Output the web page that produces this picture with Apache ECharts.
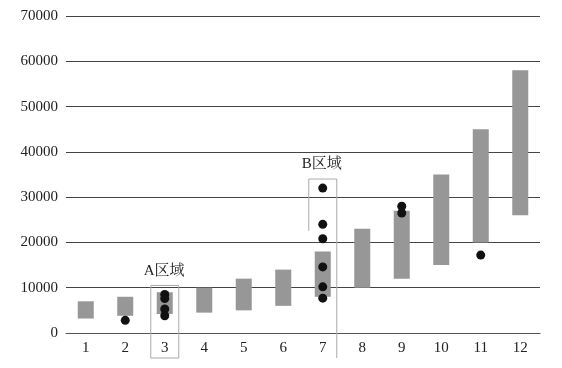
<!DOCTYPE html>
<html><head><meta charset="utf-8">
<script src="https://cdn.jsdelivr.net/npm/echarts@6/dist/echarts.min.js"></script>
<style>html,body{margin:0;padding:0;background:#fff}#c{width:562px;height:368px}</style>
</head><body><div id="c"></div>
<script>
const categories = ['1','2','3','4','5','6','7','8','9','10','11','12'];
const rangeLow  = [3200, 3800, 4200, 4500, 5000, 6000, 8000, 10000, 12000, 15000, 20000, 26000];
const rangeHigh = [7000, 8000, 9000, 10000, 12000, 14000, 18000, 23000, 27000, 35000, 45000, 58000];
const dotCats   = [1, 2, 2, 2, 2, 6, 6, 6, 6, 6, 6, 8, 8, 10];
const dotValues = [2800, 8500, 7600, 5300, 3800, 32000, 24000, 20800, 14600, 10200, 7700, 28000, 26500, 17200];
const yTicks = {min: 0, max: 70000, interval: 10000};
const regionLabels = ['A区域', 'B区域'];

const font = '"Liberation Serif", "Noto Serif CJK SC", "Noto Sans CJK SC", serif';
const chart = echarts.init(document.getElementById('c'), null, {renderer: 'canvas'});
chart.setOption({
  animation: false,
  grid: {left: 66, right: 22, top: 16, bottom: 35},
  xAxis: {
    type: 'category', data: categories, boundaryGap: true,
    axisLine: {show: true, lineStyle: {color: '#555', width: 1}},
    axisTick: {show: false},
    axisLabel: {color: '#222', fontFamily: font, fontSize: 15, margin: 8}
  },
  yAxis: {
    type: 'value', min: yTicks.min, max: yTicks.max, interval: yTicks.interval,
    axisLine: {show: false}, axisTick: {show: false},
    splitLine: {lineStyle: {color: '#444', width: 1}},
    axisLabel: {color: '#222', fontFamily: font, fontSize: 15, margin: 8, formatter: v => String(v)}
  },
  series: [
    {type: 'bar', stack: 'r', data: rangeLow, itemStyle: {color: 'transparent'}, barWidth: 16, silent: true},
    {type: 'bar', stack: 'r', data: rangeHigh.map((h, i) => h - rangeLow[i]), itemStyle: {color: '#979797'}, barWidth: 16},
    {type: 'scatter', data: dotCats.map((c, i) => [c, dotValues[i]]), symbolSize: 9, itemStyle: {color: '#111', opacity: 1}, z: 5}
  ]
});

function px(cat, val) { return chart.convertToPixel({gridIndex: 0}, [cat, val]); }
const a0 = px(2, 10500), aBase = px(2, 0);
const b0 = px(6, 34000), bMid = px(6, 23000), bBase = px(6, 0);
const half = 14;
chart.setOption({
  graphic: [
    {type: 'rect', shape: {x: a0[0] - half, y: a0[1], width: half * 2, height: aBase[1] + 25 - a0[1]},
     style: {fill: null, stroke: '#aaa', lineWidth: 1}, z: 10},
    {type: 'text', x: a0[0] - 21, y: a0[1] - 22,
     style: {text: regionLabels[0], font: '15px ' + font, fill: '#222'}, z: 10},
    {type: 'polyline', shape: {points: [[b0[0] - half, bMid[1] + 2], [b0[0] - half, b0[1]], [b0[0] + half, b0[1]], [b0[0] + half, bBase[1] + 25]]},
     style: {fill: null, stroke: '#aaa', lineWidth: 1}, z: 10},
    {type: 'text', x: b0[0] - 21, y: b0[1] - 22,
     style: {text: regionLabels[1], font: '15px ' + font, fill: '#222'}, z: 10}
  ]
});
</script></body></html>
